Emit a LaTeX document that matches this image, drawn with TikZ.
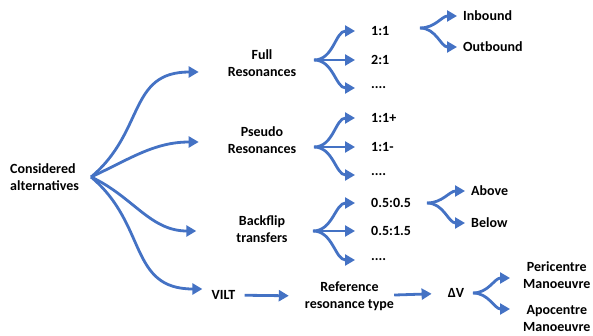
\documentclass[tikz,border=0pt]{standalone}
\usepackage{fontspec}
\setmainfont{Carlito}
\usetikzlibrary{arrows.meta, positioning}
\definecolor{branchblue}{HTML}{4472C4}
\tikzset{
  item/.style = {font=\fontsize{14}{17}\selectfont\bfseries, align=center, inner sep=0pt},
  family/.style = {item, inner xsep=29pt},
  leaf/.style = {item, inner xsep=16pt},
  outcome/.style = {item, inner xsep=6pt},
  line/.style = {draw=branchblue, line width=2.8pt, -{Triangle[length=10pt, width=11pt]}},
  branch/.style = {out=0, in=180}
}

\begin{document}
\begin{tikzpicture}[x=1pt, y=-1pt]
  \useasboundingbox (0,0) rectangle (593,336);

  % Root and the four families
  \node[item, align=left, anchor=west] (root) at (10,177) {Considered\\alternatives};
  \node[family] (full) at (262,63) {Full\\Resonances};
  \node[family] (pseudo) at (262,140) {Pseudo\\Resonances};
  \node[family, inner xsep=40pt] (backflip) at (262,229) {Backflip\\transfers};
  \node[item, inner xsep=9pt] (vilt) at (223.5,295) {VILT};
  \node[item] (ref) at (349.5,296.5) {Reference\\resonance type};
  \node[item, inner xsep=16pt] (dv) at (456,293) {ΔV};

  % Split points
  \coordinate[right=12pt of root] (rootsplit);
  \coordinate (fullsplit) at (314,60);
  \coordinate (pseudosplit) at (314,147);
  \coordinate (backsplit) at (313,231);
  \coordinate (oneonesplit) at (420,28);
  \coordinate (halfsplit) at (427,203);
  \coordinate (dvsplit) at (473,293);

  % Resonance ratios
  \node[leaf, right=41pt of fullsplit, yshift=29pt] (r11) {1:1};
  \node[leaf, right=41pt of fullsplit] (r21) {2:1};
  \node[leaf, right=41pt of fullsplit, yshift=-28pt] (rdots) {....};
  \node[leaf, right=41pt of pseudosplit, yshift=29pt] (p11p) {1:1+};
  \node[leaf, right=41pt of pseudosplit] (p11m) {1:1-};
  \node[leaf, right=41pt of pseudosplit, yshift=-28pt] (pdots) {....};
  \node[leaf, right=42pt of backsplit, yshift=28pt] (b55) {0.5:0.5};
  \node[leaf, right=42pt of backsplit] (b515) {0.5:1.5};
  \node[leaf, right=42pt of backsplit, yshift=-29pt] (bdots) {....};

  % Outcomes
  \node[outcome, right=37pt of oneonesplit, yshift=12pt] (inb) {Inbound};
  \node[outcome, right=37pt of oneonesplit, yshift=-19pt] (outb) {Outbound};
  \node[outcome, right=38pt of halfsplit, yshift=12pt] (above) {Above};
  \node[outcome, right=38pt of halfsplit, yshift=-20pt] (below) {Below};
  \node[outcome, inner xsep=13pt, right=37pt of dvsplit, yshift=17.5pt] (peri) {Pericentre\\Manoeuvre};
  \node[outcome, inner xsep=13pt, right=37pt of dvsplit, yshift=-25.5pt] (apo) {Apocentre\\Manoeuvre};

  % Arrows from the root
  \path[line] (rootsplit) to[out=40, in=180, looseness=1.2] ([yshift=-9pt]full.west);
  \path[line] (rootsplit) to[out=25, in=180] ([yshift=-2pt]pseudo.west);
  \path[line] (rootsplit) to[out=-25, in=180] ([yshift=-2pt]backflip.west);
  \path[line] (rootsplit) to[out=-40, in=180, looseness=1.2] ([yshift=6pt]vilt.west);

  % VILT chain
  \path[line, shorten >=16pt] (vilt) -- (ref);
  \path[line] (ref) -- (dv);

  % Forks
  \path[line] (fullsplit) to[branch] (r11.west);
  \path[line] (fullsplit) to[branch] (r21.west);
  \path[line] (fullsplit) to[branch] (rdots.west);
  \path[line] (pseudosplit) to[branch] (p11p.west);
  \path[line] (pseudosplit) to[branch] (p11m.west);
  \path[line] (pseudosplit) to[branch] (pdots.west);
  \path[line] (backsplit) to[branch] (b55.west);
  \path[line] (backsplit) to[branch] (b515.west);
  \path[line] (backsplit) to[branch] (bdots.west);
  \path[line] (oneonesplit) to[branch] (inb.west);
  \path[line] (oneonesplit) to[branch] (outb.west);
  \path[line] (halfsplit) to[branch] (above.west);
  \path[line] (halfsplit) to[branch] (below.west);
  \path[line] (dvsplit) to[branch] ([yshift=-2.5pt]peri.west);
  \path[line] (dvsplit) to[branch] ([yshift=9.5pt]apo.west);

\end{tikzpicture}
\end{document}
